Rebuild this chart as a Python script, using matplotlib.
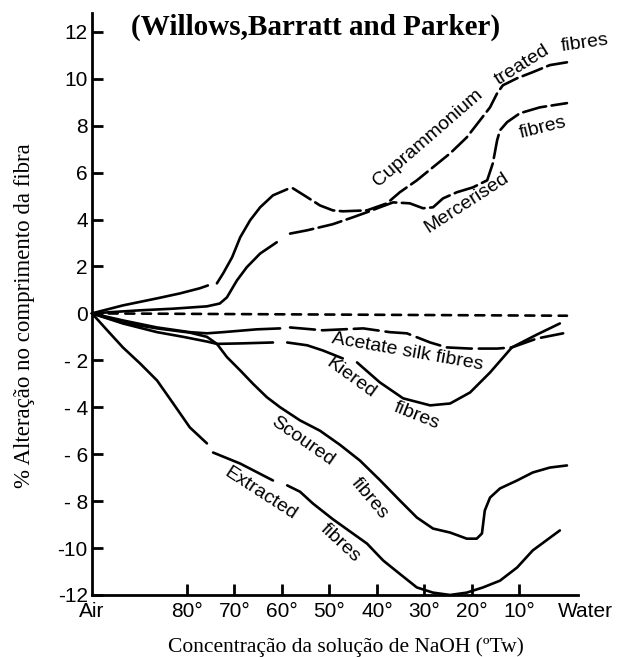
import matplotlib.pyplot as plt
import numpy as np

plt.rcParams['lines.scale_dashes'] = False

# x position: 0 = Air, then 100 - degrees Tw (Water = 100)
tick_deg = [80, 70, 60, 50, 40, 30, 20, 10]
y_ticks = [-12, -10, -8, -6, -4, -2, 0, 2, 4, 6, 8, 10, 12]
y_labels = ['-12', '-10', '- 8', '- 6', '- 4', '- 2', '0', '2', '4', '6', '8', '10', '12']

zero_x = [0, 100]
zero_y = [0, -0.1]

# Cuprammonium treated fibres
cupro_x = [0, 6.5, 13.7, 18.5, 22.7, 24.4,
           26.3, 27.6, 29.5, 31.2, 33.3, 35.4, 38.1, 41.1,
           42.3, 45.3, 48, 50.7, 52.8, 57.9, 62.1, 64.8, 68.4, 71.8, 75.4, 78.9, 81.7, 83.8, 85.3, 86.5, 89.5, 92.8, 96.4, 100]
cupro_y = [0, 0.34, 0.64, 0.85, 1.07, 1.19,
           1.28, 1.7, 2.39, 3.24, 3.97, 4.52, 5.03, 5.29,
           5.33, 4.95, 4.6, 4.39, 4.35, 4.39, 4.69, 5.16, 5.67, 6.23, 6.82, 7.5, 8.23, 8.78, 9.38, 9.72, 10.02, 10.28, 10.58, 10.7]

# Mercerised fibres
merc_x = [0, 10, 17.1, 24.2, 26.9, 28.4, 30.5, 32.6, 35.4, 38.9,
          41.7, 45.3, 50.7, 55, 57.9, 60.6, 63.4, 66.9, 69.7, 71.8, 73.9, 76.8, 80.2, 83.2, 84.4, 85.3, 85.9, 87.4, 90.1, 94.3, 100]
merc_y = [0, 0.13, 0.2, 0.3, 0.42, 0.68, 1.4, 1.97, 2.55, 3.03,
          3.4, 3.54, 3.8, 4.1, 4.31, 4.52, 4.73, 4.69, 4.48, 4.52, 4.9, 5.16, 5.37, 5.67, 6.4, 7.38, 7.8, 8.15, 8.53, 8.78, 8.96]

# Acetate silk fibres
acet_x = [0, 6.5, 13.7, 20.6, 24.2, 27.6, 34.7, 39.6,
          41.7, 48.6, 57.1, 62.7, 66.3, 71.2, 74.7, 79.6, 85.3, 88.4, 93.7, 99.2]
acet_y = [0, -0.3, -0.6, -0.8, -0.85, -0.8, -0.68, -0.64,
          -0.6, -0.72, -0.64, -0.8, -0.85, -1.24, -1.45, -1.5, -1.5, -1.45, -1.07, -0.85]

# Kiered fibres
kier_x = [0, 6.5, 13.7, 19.2, 24.2, 26.3, 31.2, 38.1,
          41.1, 45.3, 48.6, 52.8,
          55.8, 60.6, 65.5, 71.2, 75.4, 79.6, 83.8, 88.4, 93.7, 98.5]
kier_y = [0, -0.43, -0.8, -1.0, -1.2, -1.3, -1.28, -1.24,
          -1.24, -1.36, -1.58, -1.92,
          -2.09, -2.94, -3.62, -3.92, -3.84, -3.37, -2.52, -1.45, -0.9, -0.43]

# Scoured fibres
scour_x = [0, 6.5, 13.7, 20.6, 24.2, 26.3, 28.4, 31.2, 33.9, 36.8, 39.6, 43.8, 48, 52.2, 56.4, 60.6, 64.8, 68.4,
           71.8, 75.4, 78.9, 81, 82.1, 82.7, 83.8, 85.9, 89.5, 92.8, 96.4, 100]
scour_y = [0, -0.4, -0.64, -0.82, -1.0, -1.3, -1.86, -2.43, -3.0, -3.57, -4.0, -4.56, -5.0, -5.6, -6.27, -7.1, -7.97, -8.7,
           -9.17, -9.34, -9.6, -9.6, -9.38, -8.4, -7.85, -7.46, -7.12, -6.78, -6.57, -6.48]

# Extracted fibres
extr_x = [0, 3.2, 6.5, 10.1, 13.7, 17.1, 20.6, 24.2,
          25.5, 31.2, 38.1,
          41.1, 43.8, 46.5, 50.7, 57.9, 61.3, 64.8, 68.4, 71.8, 75.4, 78.9, 82.3, 85.9, 89.5, 92.8, 98.5]
extr_y = [0, -0.72, -1.45, -2.13, -2.86, -3.84, -4.86, -5.54,
          -5.93, -6.4, -7.12,
          -7.33, -7.6, -8.1, -8.77, -9.81, -10.53, -11.1, -11.68, -11.9, -12.0, -11.9, -11.68, -11.39, -10.83, -10.1, -9.25]

fig = plt.figure(figsize=(6.17, 6.57), dpi=100)
ax = fig.add_axes([0.1491, 0.0944, 0.8006, 0.8858])

lw = 1.9


def seg(x, y, a, b, ls='-'):
    ax.plot(x[a:b], y[a:b], color='black', lw=lw, linestyle=ls, clip_on=False,
            solid_joinstyle='round', solid_capstyle='round', dash_capstyle='round')


seg(zero_x, zero_y, 0, 2, (0, (6.5, 5.5)))
seg(cupro_x, cupro_y, 0, 6)
seg(cupro_x, cupro_y, 6, 14)
seg(cupro_x, cupro_y, 14, None, (0, (15, 4)))
seg(merc_x, merc_y, 0, 10)
seg(merc_x, merc_y, 10, None, (0, (17, 4)))
seg(acet_x, acet_y, 0, 8)
seg(acet_x, acet_y, 8, None, (0, (18, 5)))
seg(kier_x, kier_y, 0, 8)
seg(kier_x, kier_y, 8, 12)
seg(kier_x, kier_y, 12, None)
seg(scour_x, scour_y, 0, None)
seg(extr_x, extr_y, 0, 8)
seg(extr_x, extr_y, 8, 11)
seg(extr_x, extr_y, 11, None)

ax.set_xlim(0, 104)
ax.set_ylim(-12, 12.8)
ax.spines['top'].set_visible(False)
ax.spines['right'].set_visible(False)
ax.spines['left'].set_linewidth(2)
ax.spines['bottom'].set_linewidth(2)
ax.spines['bottom'].set_bounds(0, 102.3)

ax.set_yticks(y_ticks)
ax.set_yticklabels(y_labels, family='Liberation Sans', fontsize=15)
ax.set_xticks([0] + [100 - d for d in tick_deg] + [103.8])
ax.set_xticklabels(['Air'] + [str(d) + '°' for d in tick_deg] + ['Water'], family='Liberation Sans', fontsize=15)
ax.tick_params(axis='both', direction='in', length=8, width=2, color='black')
ax.tick_params(axis='y', pad=3)
ax.tick_params(axis='x', pad=5)
ax.xaxis.get_major_ticks()[0].tick1line.set_visible(False)
ax.xaxis.get_major_ticks()[-1].tick1line.set_visible(False)

sans = dict(family='Liberation Sans', fontsize=14, ha='center', va='center',
            rotation_mode='anchor', clip_on=False)
ax.text(70.7, 7.46, 'Cuprammonium', rotation=41, **sans)
ax.text(90.5, 10.58, 'treated', rotation=32, **sans)
ax.text(103.8, 11.51, 'fibres', rotation=8, **sans)
ax.text(78.8, 4.7, 'Mercerised', rotation=33, **sans)
ax.text(94.9, 7.89, 'fibres', rotation=14, **sans)
ax.text(66.5, -1.66, 'Acetate silk fibres', rotation=-10, **sans)
ax.text(54.5, -2.77, 'Kiered', rotation=-36, **sans)
ax.text(68.4, -4.35, 'fibres', rotation=-22, **sans)
ax.text(44.4, -5.46, 'Scoured', rotation=-35, **sans)
ax.text(58.5, -7.89, 'fibres', rotation=-50, **sans)
ax.text(35.4, -7.68, 'Extracted', rotation=-33, **sans)
ax.text(52.2, -9.77, 'fibres', rotation=-43, **sans)

fig.text(0.511, 0.959, '(Willows,Barratt and Parker)', ha='center', va='center',
         family='Liberation Serif', fontweight='bold', fontsize=21)
fig.text(0.040, 0.52, '% Alteração no comprimento da fibra', rotation=90, ha='center', va='center',
         family='Liberation Serif', fontsize=16.5)
fig.text(0.561, 0.008, 'Concentração da solução de NaOH (ºTw)', ha='center', va='baseline',
         family='Liberation Serif', fontsize=15.5)

plt.savefig('out.png', dpi=100)
